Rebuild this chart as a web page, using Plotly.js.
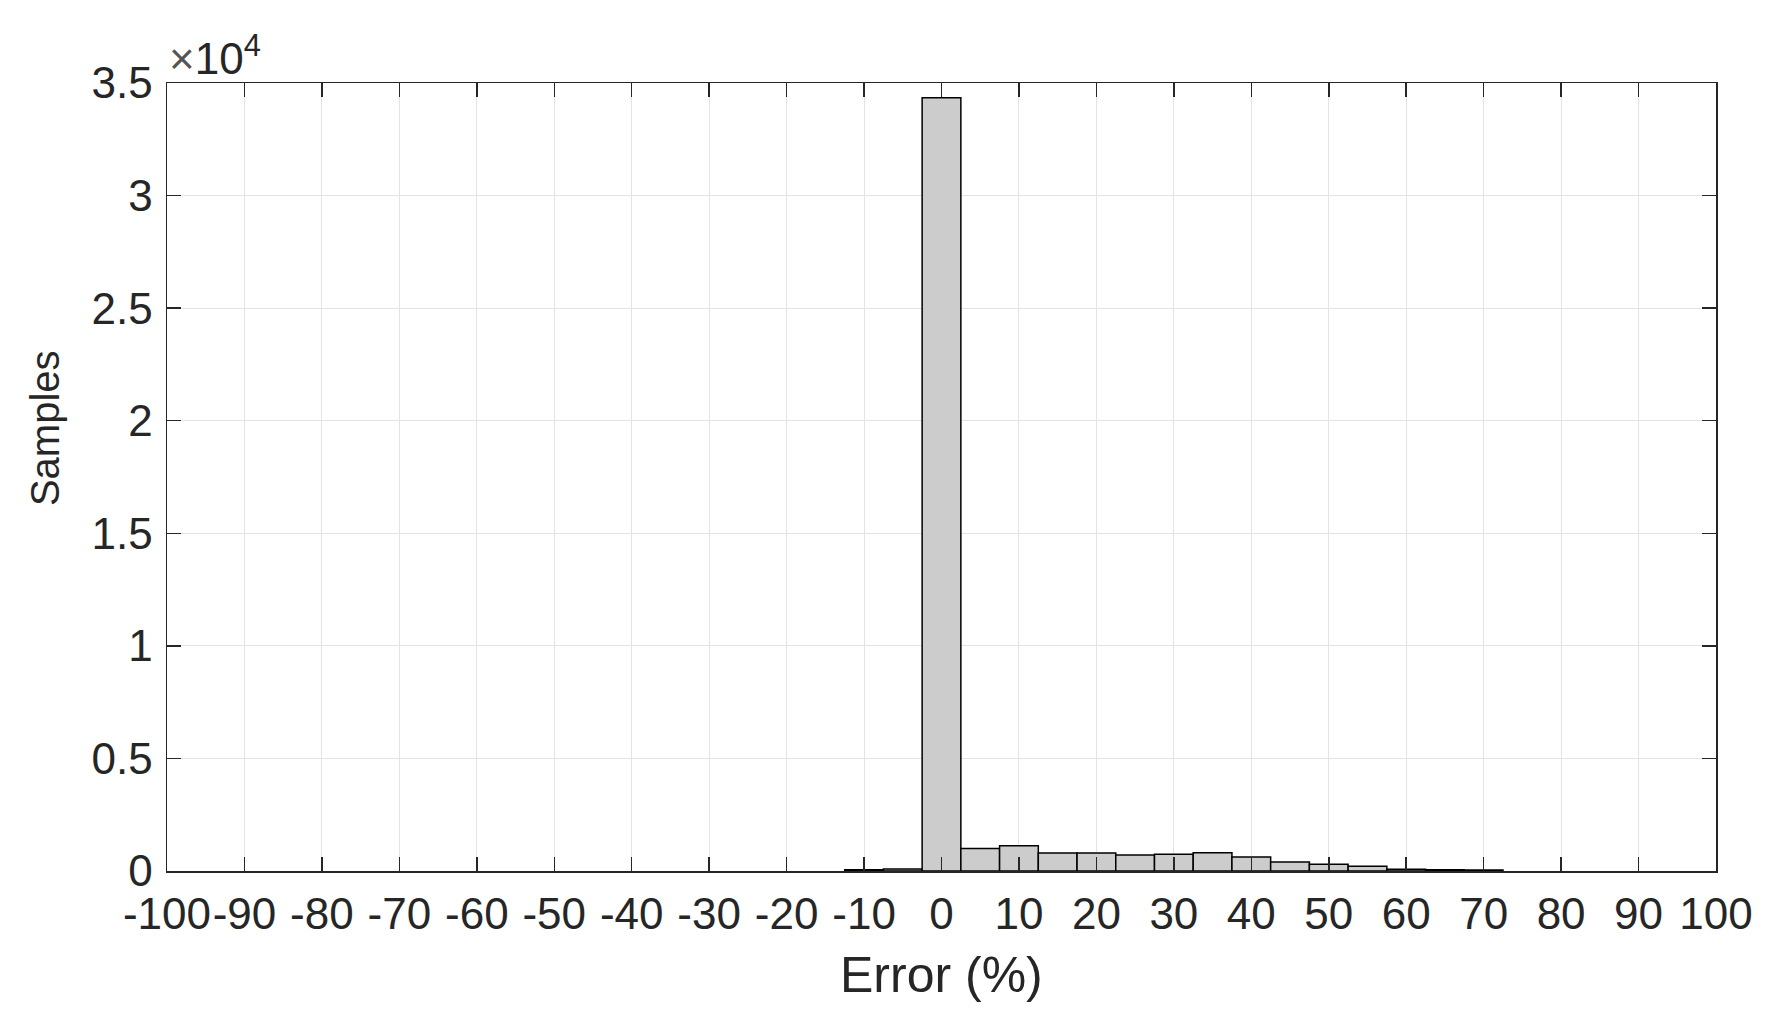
<!DOCTYPE html>
<html>
<head>
<meta charset="utf-8">
<script src="https://cdn.plot.ly/plotly-3.0.1.min.js"></script>
<style>
  html, body { margin: 0; padding: 0; background: #ffffff; }
  #chart { width: 1778px; height: 1019px; }
</style>
</head>
<body>
<div id="chart"></div>
<script>
// histogram bins (centre of each 5 % bin) and sample counts
var binCenters = [-10, -5, 0, 5, 10, 15, 20, 25, 30, 35, 40, 45, 50, 55, 60, 65, 70];
var counts     = [50, 90, 34350, 1000, 1125, 800, 800, 710, 740, 815, 620, 400, 296, 207, 80, 60, 40];

var xTickVals = [-100, -90, -80, -70, -60, -50, -40, -30, -20, -10, 0, 10, 20, 30, 40, 50, 60, 70, 80, 90, 100];
var xTickText = ['-100', '-90', '-80', '-70', '-60', '-50', '-40', '-30', '-20', '-10', '0', '10', '20', '30', '40', '50', '60', '70', '80', '90', '100'];
var yTickVals = [0, 5000, 10000, 15000, 20000, 25000, 30000, 35000];
var yTickText = ['0', '0.5', '1', '1.5', '2', '2.5', '3', '3.5'];

var FONT = 'Liberation Sans, Arial, Helvetica, sans-serif';
var INK = '#262626';

var trace = {
  type: 'bar',
  x: binCenters,
  y: counts,
  width: 5,
  marker: { color: '#cccccc', line: { color: '#000000', width: 1.5 } },
  hoverinfo: 'x+y'
};

var layout = {
  width: 1778,
  height: 1019,
  paper_bgcolor: '#ffffff',
  plot_bgcolor: '#ffffff',
  font: { family: FONT, color: INK, size: 44 },
  margin: { l: 167, r: 62, t: 83, b: 148, pad: 0 },
  showlegend: false,
  bargap: 0,
  xaxis: {
    range: [-100, 100],
    tickmode: 'array',
    tickvals: xTickVals,
    ticktext: xTickText,
    tickangle: 0,
    ticks: 'inside',
    ticklen: 14,
    tickwidth: 1.5,
    tickcolor: INK,
    showline: true,
    linecolor: INK,
    linewidth: 1.5,
    mirror: 'ticks',
    showgrid: true,
    gridcolor: '#e3e3e3',
    gridwidth: 1,
    zeroline: false,
    tickfont: { family: FONT, size: 44, color: INK },
    ticklabelstandoff: 4
  },
  yaxis: {
    range: [0, 35000],
    tickmode: 'array',
    tickvals: yTickVals,
    ticktext: yTickText,
    ticks: 'inside',
    ticklen: 14,
    tickwidth: 1.5,
    tickcolor: INK,
    showline: true,
    linecolor: INK,
    linewidth: 1.5,
    mirror: 'ticks',
    showgrid: true,
    gridcolor: '#e3e3e3',
    gridwidth: 1,
    zeroline: false,
    tickfont: { family: FONT, size: 44, color: INK },
    ticklabelstandoff: 4
  },
  annotations: [
    {
      text: 'Error (%)', xref: 'paper', yref: 'paper',
      x: 0.5, y: -0.132, xanchor: 'center', yanchor: 'middle',
      showarrow: false, font: { family: FONT, size: 50, color: INK }
    },
    {
      text: 'Samples', xref: 'paper', yref: 'paper',
      x: -0.0788, y: 0.562, xanchor: 'center', yanchor: 'middle', textangle: -90,
      showarrow: false, font: { family: FONT, size: 40, color: INK }
    },
    {
      text: '<span style="color:#555555">×</span>10<sup>4</sup>', xref: 'paper', yref: 'paper',
      x: 0.0, y: 1.035, xanchor: 'left', yanchor: 'middle',
      showarrow: false, font: { family: FONT, size: 44, color: INK }
    }
  ]
};

Plotly.newPlot('chart', [trace], layout, { displayModeBar: false, staticPlot: true });
</script>
</body>
</html>
